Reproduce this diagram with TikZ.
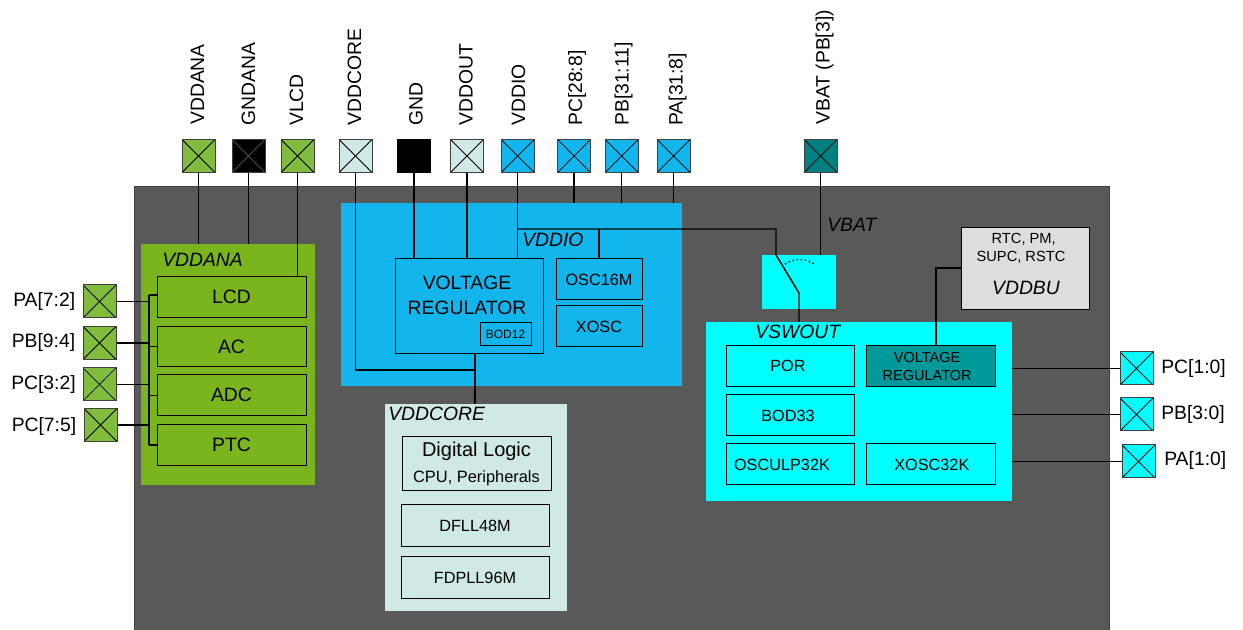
\documentclass[tikz,border=0pt]{standalone}
\usepackage{fontspec}
\setmainfont{Liberation Sans}
\usepackage{xcolor}
\usetikzlibrary{calc}
\definecolor{chipgrey}{HTML}{595959}
\definecolor{anagreen}{HTML}{7AB51D}
\definecolor{padgreen}{HTML}{82BC3C}
\definecolor{ioblue}{HTML}{12B5EC}
\definecolor{corepale}{HTML}{CFE9E6}
\definecolor{swcyan}{HTML}{00FFFF}
\definecolor{regteal}{HTML}{009999}
\definecolor{batteal}{HTML}{008080}
\definecolor{bugrey}{HTML}{DDDDDD}
\tikzstyle{region} = [rectangle, inner sep=0pt]
\tikzstyle{block} = [rectangle, draw=black, line width=0.75pt, inner sep=0pt, align=center, font=\fontsize{12.2}{14}\selectfont]
\tikzstyle{anablock} = [block, fill=anagreen, minimum width=111.75pt, minimum height=30.4pt, font=\fontsize{14.5}{17}\selectfont]
\tikzstyle{padcross} = [draw=black]
\tikzstyle{pad} = [rectangle, draw=black!75, line width=0.75pt, inner sep=0pt, minimum size=24.75pt,
  path picture={\draw[padcross, line width=0.6pt] (path picture bounding box.north west) -- (path picture bounding box.south east)
    (path picture bounding box.north east) -- (path picture bounding box.south west);}]
\tikzstyle{padlabel} = [inner sep=0pt, font=\fontsize{14.5}{17}\selectfont]
\tikzstyle{toplabel} = [padlabel, rotate=90, anchor=west]
\tikzstyle{domlabel} = [inner sep=0pt, anchor=west, font=\fontsize{14.5}{17}\selectfont\itshape]
\tikzstyle{wire} = [draw=black, line width=1.1pt]

\begin{document}
\begin{tikzpicture}[x=0.75pt,y=-0.75pt]
  \clip (0,0) rectangle (1243,630);
  \node[region, draw=black!75, line width=0.75pt, fill=chipgrey, minimum width=731.25pt, minimum height=345pt] (chip) at (621.5,417) {};

  % top pins
  \node[pad, fill=padgreen] (P_VDDANA) at (198.5,156) {};
  \node[pad, fill=black, padcross/.style={draw=black!70!white}, node distance=37.5pt] (P_GNDANA) [right of=P_VDDANA] {};
  \node[pad, fill=padgreen, node distance=36.75pt] (P_VLCD) [right of=P_GNDANA] {};
  \node[pad, fill=corepale, node distance=43.5pt] (P_VDDCORE) [right of=P_VLCD] {};
  \node[region, draw=black, fill=black, minimum size=24.75pt, node distance=43.9pt] (P_GND) [right of=P_VDDCORE] {};
  \node[pad, fill=corepale, node distance=39.75pt] (P_VDDOUT) [right of=P_GND] {};
  \node[pad, fill=ioblue, node distance=37.9pt] (P_VDDIO) [right of=P_VDDOUT] {};
  \node[pad, fill=ioblue, node distance=42.4pt] (P_PC_hi) [right of=P_VDDIO] {};
  \node[pad, fill=ioblue, node distance=35.6pt] (P_PB_hi) [right of=P_PC_hi] {};
  \node[pad, fill=ioblue, node distance=39pt] (P_PA_hi) [right of=P_PB_hi] {};
  \node[pad, fill=batteal, node distance=110.25pt] (P_VBAT) [right of=P_PA_hi] {};

  \node[toplabel] (L_VDDANA) at ($(P_VDDANA.north)+(-1,-14)$) {VDDANA};
  \node[toplabel] (L_GNDANA) at ($(P_GNDANA.north)+(0,-13)$) {GNDANA};
  \node[toplabel] (L_VLCD) at ($(P_VLCD.north)+(-1,-13)$) {VLCD};
  \node[toplabel] (L_VDDCORE) at ($(P_VDDCORE.north)+(-1,-13)$) {VDDCORE};
  \node[toplabel] (L_GND) at ($(P_GND.north)+(2,-13)$) {GND};
  \node[toplabel] (L_VDDOUT) at ($(P_VDDOUT.north)+(-1,-13)$) {VDDOUT};
  \node[toplabel] (L_VDDIO) at ($(P_VDDIO.north)+(1,-13)$) {VDDIO};
  \node[toplabel] (L_PC_hi) at ($(P_PC_hi.north)+(3,-13)$) {PC[28:8]};
  \node[toplabel] (L_PB_hi) at ($(P_PB_hi.north)+(2,-13)$) {PB[31:11]};
  \node[toplabel] (L_PA_hi) at ($(P_PA_hi.north)+(4,-13)$) {PA[31:8]};
  \node[toplabel] (L_VBAT) at ($(P_VBAT.north)+(4,-14)$) {VBAT (PB[3])};

  % VDDANA domain
  \node[region, fill=anagreen, minimum width=130.5pt, minimum height=180.75pt] (VDDANA) at (228,364.5) {};
  \node[domlabel] (N_VDDANA) at (162,259.5) {VDDANA};
  \node[anablock] (LCD) at (231.5,297) {LCD};
  \node[anablock, node distance=37.1pt] (AC) [below of=LCD] {AC};
  \node[anablock, node distance=36.6pt] (ADC) [below of=AC] {ADC};
  \node[anablock, node distance=37.5pt] (PTC) [below of=ADC] {PTC};

  \node[pad, fill=padgreen] (P_PA_lo) at (99.5,301.5) {};
  \node[pad, fill=padgreen, node distance=31.1pt] (P_PB_lo) [below of=P_PA_lo] {};
  \node[pad, fill=padgreen, node distance=31.1pt] (P_PC_a) [below of=P_PB_lo] {};
  \node[pad, fill=padgreen] (P_PC_b) at (100.5,425) {};
  \node[padlabel, anchor=east] (L_PA_lo) at (75.5,301.5) {PA[7:2]};
  \node[padlabel, anchor=east] (L_PB_lo) at (75.5,343) {PB[9:4]};
  \node[padlabel, anchor=east] (L_PC_a) at (76,385) {PC[3:2]};
  \node[padlabel, anchor=east] (L_PC_b) at (76.5,427) {PC[7:5]};

  % VDDIO domain
  \node[region, fill=ioblue, minimum width=255.75pt, minimum height=137.25pt] (VDDIO) at (511.5,294.5) {};
  \node[domlabel] (N_VDDIO) at (522,240) {VDDIO};
  \node[block, fill=ioblue, minimum width=111pt, minimum height=71.25pt] (VREG) at (469,306.5) {};
  \node[inner sep=0pt, align=center, font=\fontsize{14.5}{18.75}\selectfont] (N_VREG) at (467,295.5) {VOLTAGE\\REGULATOR};
  \node[block, fill=ioblue, minimum width=38.25pt, minimum height=17.25pt, font=\fontsize{9}{11}\selectfont] (BOD12) at (505.5,334.5) {BOD12};
  \node[block, fill=ioblue, minimum width=64.5pt, minimum height=30.75pt] (OSC16M) at (599,279.5) {OSC16M};
  \node[block, fill=ioblue, minimum width=64.5pt, minimum height=30.75pt] (XOSC) at (599,326.5) {XOSC};

  % VDDCORE domain
  \node[region, fill=corepale, minimum width=136.5pt, minimum height=155.25pt] (VDDCORE) at (476,507.5) {};
  \node[domlabel] (N_VDDCORE) at (388,413.5) {VDDCORE};
  \node[block, fill=corepale, minimum width=111.75pt, minimum height=40.5pt, font=\fontsize{15}{18}\selectfont] (LOGIC) at (476.5,464) {Digital Logic\\[1pt]{\fontsize{12.3}{15}\selectfont CPU, Peripherals}};
  \node[block, fill=corepale, minimum width=111pt, minimum height=31.5pt] (DFLL) at (475,526) {DFLL48M};
  \node[block, fill=corepale, minimum width=111pt, minimum height=31.5pt] (FDPLL) at (475,578) {FDPLL96M};

  % switch and VSWOUT domain
  \node[region, fill=swcyan, minimum width=55.5pt, minimum height=40.5pt] (SW) at (799,282) {};
  \node[region, fill=swcyan, minimum width=229.5pt, minimum height=134.25pt] (VSWOUT) at (859,411.5) {};
  \node[domlabel] (N_VSWOUT) at (755,332) {VSWOUT};
  \node[block, fill=swcyan, minimum width=96pt, minimum height=30.75pt] (POR) at (790,366.5) {\raisebox{1pt}{POR\hspace*{3pt}}};
  \node[block, fill=regteal, minimum width=96.75pt, minimum height=30.75pt, font=\fontsize{10.9}{13.5}\selectfont] (VREG_bu) at (930.5,366.5) {VOLTAGE\hspace*{5pt}\\REGULATOR\hspace*{5pt}};
  \node[block, fill=swcyan, minimum width=96pt, minimum height=30.75pt] (BOD33) at (790,415.5) {BOD33\hspace*{3pt}};
  \node[block, fill=swcyan, minimum width=96pt, minimum height=30.75pt] (OSCULP) at (790,464.5) {\raisebox{-1.5pt}{OSCULP32K\hspace*{12pt}}};
  \node[block, fill=swcyan, minimum width=96.75pt, minimum height=30.75pt] (XOSC32K) at (930.5,464.5) {\raisebox{-1.5pt}{\hspace*{2pt}XOSC32K}};
  \node[domlabel] (N_VBAT) at (827,225) {VBAT};

  % VDDBU domain
  \node[block, fill=bugrey, minimum width=96pt, minimum height=61.5pt] (VDDBU) at (1025,269) {};
  \node[inner sep=0pt, align=center, font=\fontsize{11}{13.5}\selectfont] (N_RTC) at (1021,248.5) {\hspace*{4pt}RTC, PM,\\SUPC, RSTC};
  \node[domlabel, anchor=center] (N_VDDBU) at (1026,288) {VDDBU};

  % right pins
  \node[pad, fill=swcyan] (P_PC_lo) at (1136.5,368.5) {};
  \node[pad, fill=swcyan] (P_PB_lo2) at (1136.5,414.5) {};
  \node[pad, fill=swcyan] (P_PA_lo2) at (1138.5,461.5) {};
  \node[padlabel, anchor=west] (L_PC_lo) at (1161,369) {PC[1:0]};
  \node[padlabel, anchor=west] (L_PB_lo2) at (1161,415) {PB[3:0]};
  \node[padlabel, anchor=west] (L_PA_lo2) at (1164,461) {PA[1:0]};

  % junctions
  \coordinate (J_bus) at (149,295);
  \coordinate (J_end) at (149,445);
  \coordinate (J_core) at (475,370);
  \coordinate (J_io) at (517.5,229);
  \coordinate (SW_a) at (776,255);
  \coordinate (SW_b) at (799,293);
  \coordinate (SW_c) at (799,322);
  \coordinate (ARC_a) at (785,264);
  \coordinate (ARC_b) at (814,264);
  \coordinate (J_bu) at (936,268);

  \path[wire] (P_VDDANA) edge (P_VDDANA |- VDDANA.north);
  \path[wire] (P_GNDANA) edge (P_GNDANA |- VDDANA.north);
  \draw[wire] (P_VLCD) -- (P_VLCD |- LCD.north);
  \draw[wire] (P_VDDCORE) -- (P_VDDCORE |- J_core) -- (J_core);
  \draw[wire] (J_core |- VREG.south) -- (J_core |- VDDCORE.north);
  \draw[wire] (P_GND) -- (P_GND |- VREG.north);
  \draw[wire] (P_VDDOUT) -- (P_VDDOUT |- VREG.north);
  \draw[wire] (P_VDDIO) -- (P_VDDIO |- VREG.north);
  \draw[wire] (P_PC_hi) -- (P_PC_hi |- VDDIO.north);
  \draw[wire] (P_PB_hi) -- (P_PB_hi |- VDDIO.north);
  \draw[wire] (P_PA_hi) -- (P_PA_hi |- VDDIO.north);
  \draw[wire] (P_VBAT) -- (P_VBAT |- SW.north);
  \draw[wire] (J_io) -- (J_io -| SW_a) -- (SW_a) -- (SW_b) -- (SW_c);
  \draw[wire] (OSC16M.north |- J_io) -- (OSC16M.north);
  \draw[wire, dotted] (ARC_a) .. controls (795,258) and (805,258) .. (ARC_b);

  \draw[wire] (J_bus) -- (J_end);
  \draw[wire] (J_bus) -- (J_bus -| LCD.west);
  \draw[wire] (J_bus |- AC.west) -- (AC.west);
  \draw[wire] (J_bus |- ADC.west) -- (ADC.west);
  \draw[wire] (J_end) -- (J_end -| PTC.west);
  \draw[wire] (P_PA_lo) -- (P_PA_lo -| J_bus);
  \draw[wire] (P_PB_lo) -- (P_PB_lo -| J_bus);
  \draw[wire] (P_PC_a) -- (P_PC_a -| J_bus);
  \draw[wire] (P_PC_b) -- (P_PC_b -| J_bus);

  \draw[wire] (VDDBU.west |- J_bu) -- (J_bu) -- (J_bu |- VREG_bu.north);
  \draw[wire] (VSWOUT.east |- P_PC_lo) -- (P_PC_lo);
  \draw[wire] (VSWOUT.east |- P_PB_lo2) -- (P_PB_lo2);
  \draw[wire] (VSWOUT.east |- P_PA_lo2) -- (P_PA_lo2);
\end{tikzpicture}
\end{document}
